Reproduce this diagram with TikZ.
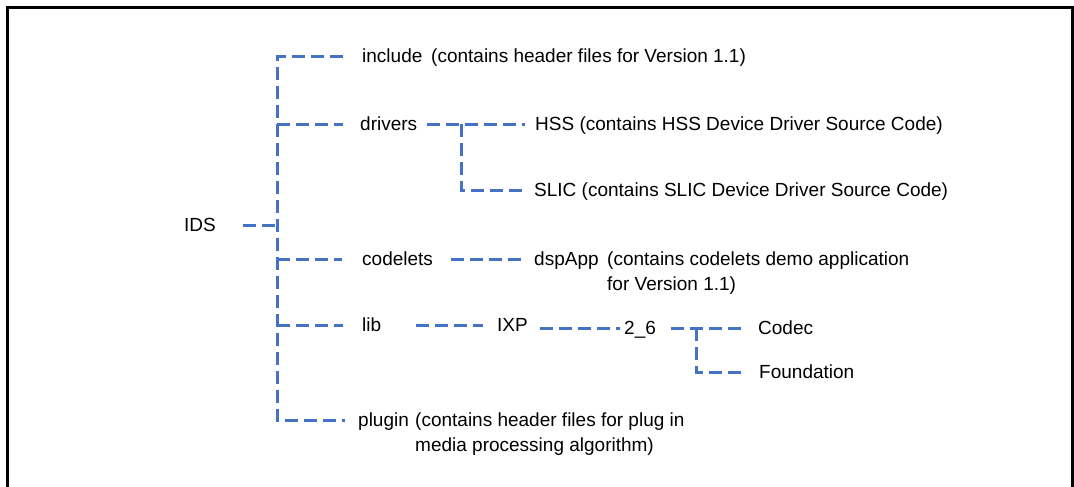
\documentclass[tikz,border=0pt]{standalone}
\usepackage{fontspec}
\setmainfont{Liberation Sans}
\definecolor{lineblue}{HTML}{4472C4}
\tikzset{
  br/.style={draw=lineblue, line width=3pt, dash pattern=on 13pt off 6pt},
  lbl/.style={font=\fontsize{19}{25}\selectfont, inner sep=0pt, anchor=west, text height=13pt, text depth=1pt},
  frameline/.style={draw=black, line width=3pt}
}
\begin{document}
\begin{tikzpicture}[x=1pt,y=-1pt]
\useasboundingbox (0,0) rectangle (1074,487);
\draw[frameline] (7.5,487) -- (7.5,7.5) -- (1072,7.5) -- (1072,487);

% nodes
\node[lbl] (ids) at (184,225) {IDS};
\node[lbl] (inc) at (362,57) {include};
\node[lbl] (incd) at (431,57) {(contains header files for Version 1.1)};
\node[lbl] (drv) at (360,124) {drivers};
\node[lbl] (hss) at (535,124) {HSS (contains HSS Device Driver Source Code)};
\node[lbl] (slic) at (534,190) {SLIC (contains SLIC Device Driver Source Code)};
\node[lbl] (cod) at (362,259) {codelets};
\node[lbl] (dsp) at (534,259) {dspApp};
\node[lbl] (dspd) at (607,259) {(contains codelets demo application};
\node[lbl, anchor=base west] (dspd2) at ([yshift=-25pt]dspd.base west) {for Version 1.1)};
\node[lbl] (lib) at (362,325) {lib};
\node[lbl] (ixp) at (497,325) {IXP};
\node[lbl] (ver) at (624,328) {2\_6};
\node[lbl] (codec) at (758,328) {Codec};
\node[lbl] (found) at (759,372) {Foundation};
\node[lbl] (plug) at (358,420) {plugin};
\node[lbl] (plugd) at (415,420) {(contains header files for plug in};
\node[lbl, anchor=base west] (plugd2) at ([yshift=-25pt]plugd.base west) {media processing algorithm)};

% junctions
\coordinate (tTop) at (277,57);
\coordinate (tBot) at (277,420);
\coordinate (jDrv) at (461,124);
\coordinate (jVer) at (696,328);
\coordinate (ixpR) at ([xshift=12pt]ixp.east);

% trunk
\draw[br] ([xshift=-19pt]inc.west) -- (tTop) -- (tBot) -- ([xshift=-13pt]plug.west);
\draw[br] ([xshift=27pt]ids.east) -- (tTop |- ids.west);
\draw[br] (tTop |- drv.west) -- ([xshift=-17pt]drv.west);
\draw[br] (tTop |- cod.west) -- ([xshift=-20pt]cod.west);
\draw[br] (tTop |- lib.west) -- ([xshift=-19pt]lib.west);

% drivers
\draw[br] ([xshift=10pt]drv.east) -- ([xshift=-10pt]hss.west);
\draw[br] (jDrv) |- ([xshift=-7pt]slic.west);

% codelets
\draw[br] ([xshift=18pt]cod.east) -- ([xshift=-11pt]dsp.west);

% lib
\draw[br] ([xshift=-81pt]ixp.west) -- ([xshift=-14pt]ixp.west);
\draw[br] (ixpR |- ver.west) -- ([xshift=-4pt]ver.west);
\draw[br] ([xshift=15pt]ver.east) -- ([xshift=-13pt]codec.west);
\draw[br] (jVer) |- ([xshift=-14pt]found.west);
\end{tikzpicture}
\end{document}
